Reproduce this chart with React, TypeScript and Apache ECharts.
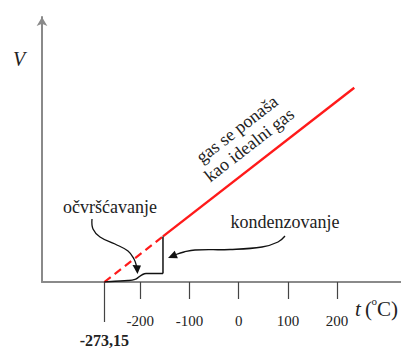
import React, { useEffect, useRef } from "react";
import * as echarts from "echarts";

// temperature t (°C) and volume V (arbitrary units)
const idealDashed: [number, number][] = [
  [-273.15, 0],
  [-154, 17.2],
];
const idealSolid: [number, number][] = [
  [-154, 17.2],
  [235, 73.3],
];
const realCurve: [number, number][] = [
  [-273.15, 0],
  [-251.6, 0.26],
  [-225, 0.53],
  [-210.9, 1.0],
  [-202.8, 1.9],
  [-196.7, 2.7],
  [-188.5, 3.2],
  [-154, 3.2],
];
const condensationStep: [number, number][] = [
  [-154, 3.2],
  [-154, 17.2],
];
const tickValues = [-200, -100, 0, 100, 200];
const zeroKelvin = [-273.15];
const zeroKelvinLabel = "-273,15";

const SERIF = "Liberation Serif";

export default function App() {
  const ref = useRef<HTMLDivElement>(null);
  useEffect(() => {
    if (!ref.current) return;
    const chart = echarts.init(ref.current, undefined, { renderer: "svg" });
    chart.setOption({
      animation: false,
      backgroundColor: "#ffffff",
      grid: { left: 42, right: 0, top: 17, bottom: 65 },
      xAxis: [
        {
          type: "value",
          min: -400,
          max: 330,
          position: "bottom",
          splitLine: { show: false },
          axisLine: { show: true, onZero: false, lineStyle: { color: "#8a8a8a", width: 2 } },
          axisTick: {
            show: true,
            customValues: tickValues,
            length: 17,
            lineStyle: { color: "#444", width: 1.2 },
          },
          axisLabel: {
            customValues: tickValues,
            margin: 31,
            color: "#222",
            fontFamily: SERIF,
            fontSize: 15,
          },
        },
        {
          type: "value",
          min: -400,
          max: 330,
          position: "bottom",
          splitLine: { show: false },
          axisLine: { show: false, onZero: false },
          axisTick: {
            show: true,
            customValues: zeroKelvin,
            length: 40,
            lineStyle: { color: "#444", width: 1.2 },
          },
          axisLabel: {
            customValues: zeroKelvin,
            formatter: () => zeroKelvinLabel,
            margin: 50,
            color: "#222",
            fontFamily: SERIF,
            fontSize: 16,
            fontWeight: "bold",
          },
        },
      ],
      yAxis: {
        type: "value",
        min: 0,
        max: 100,
        position: "left",
        splitLine: { show: false },
        axisTick: { show: false },
        axisLabel: { show: false },
        axisLine: {
          show: true,
          onZero: false,
          symbol: ["none", "arrow"],
          symbolSize: [8, 9],
          lineStyle: { color: "#8a8a8a", width: 2 },
        },
      },
      series: [
        {
          type: "line",
          data: idealDashed,
          showSymbol: false,
          lineStyle: { color: "#ff1a1a", width: 2.2, type: [8, 5] },
        },
        {
          type: "line",
          data: idealSolid,
          showSymbol: false,
          lineStyle: { color: "#ff1a1a", width: 2.4 },
        },
        {
          type: "line",
          data: realCurve,
          showSymbol: false,
          smooth: 0.4,
          lineStyle: { color: "#111", width: 1.5 },
        },
        {
          type: "line",
          data: condensationStep,
          showSymbol: false,
          lineStyle: { color: "#111", width: 1.5 },
        },
      ],
      graphic: [
        {
          type: "text",
          x: 19,
          y: 59,
          style: {
            text: "V",
            font: `italic 20px "${SERIF}"`,
            fill: "#222",
            align: "center",
            verticalAlign: "middle",
          },
        },
        {
          type: "text",
          x: 355,
          y: 309,
          style: { text: "t", font: `italic 21px "${SERIF}"`, fill: "#222", verticalAlign: "middle" },
        },
        {
          type: "text",
          x: 365,
          y: 309,
          style: { text: "(", font: `21px "${SERIF}"`, fill: "#222", verticalAlign: "middle" },
        },
        {
          type: "text",
          x: 371.5,
          y: 301,
          style: { text: "o", font: `11px "${SERIF}"`, fill: "#222", verticalAlign: "middle" },
        },
        {
          type: "text",
          x: 377,
          y: 309,
          style: { text: "C)", font: `21px "${SERIF}"`, fill: "#222", verticalAlign: "middle" },
        },
        {
          type: "text",
          x: 110,
          y: 207,
          style: {
            text: "očvršćavanje",
            font: `18px "${SERIF}"`,
            fill: "#222",
            align: "center",
            verticalAlign: "middle",
          },
        },
        {
          type: "text",
          x: 285,
          y: 222,
          style: {
            text: "kondenzovanje",
            font: `18px "${SERIF}"`,
            fill: "#222",
            align: "center",
            verticalAlign: "middle",
          },
        },
        {
          type: "text",
          x: 243,
          y: 137,
          rotation: (37.8 * Math.PI) / 180,
          style: {
            text: "gas se ponaša\nkao idealni gas",
            font: `18px "${SERIF}"`,
            lineHeight: 20,
            fill: "#222",
            align: "center",
            verticalAlign: "middle",
          },
        },
        {
          type: "polyline",
          shape: {
            points: [
              [92, 219],
              [93, 229],
              [100, 237],
              [115, 244],
              [128, 251],
              [134, 259],
              [136.5, 266],
            ],
            smooth: 0.4,
          },
          style: { stroke: "#111", lineWidth: 1.3, fill: null },
        },
        {
          type: "polygon",
          shape: { points: [[137.5, 274], [132.5, 265], [141, 265.5]] },
          style: { fill: "#111" },
        },
        {
          type: "polyline",
          shape: {
            points: [
              [285, 236],
              [278, 242],
              [262, 247],
              [230, 249.5],
              [195, 250],
              [184, 252],
              [176, 254.5],
            ],
            smooth: 0.4,
          },
          style: { stroke: "#111", lineWidth: 1.3, fill: null },
        },
        {
          type: "polygon",
          shape: { points: [[168, 258], [174.7, 250.8], [177.9, 258.2]] },
          style: { fill: "#111" },
        },
      ],
    });
    return () => chart.dispose();
  }, []);
  return (
    <div
      ref={ref}
      style={{ position: "absolute", left: 0, top: 0, width: 401, height: 348, background: "#fff" }}
    />
  );
}
